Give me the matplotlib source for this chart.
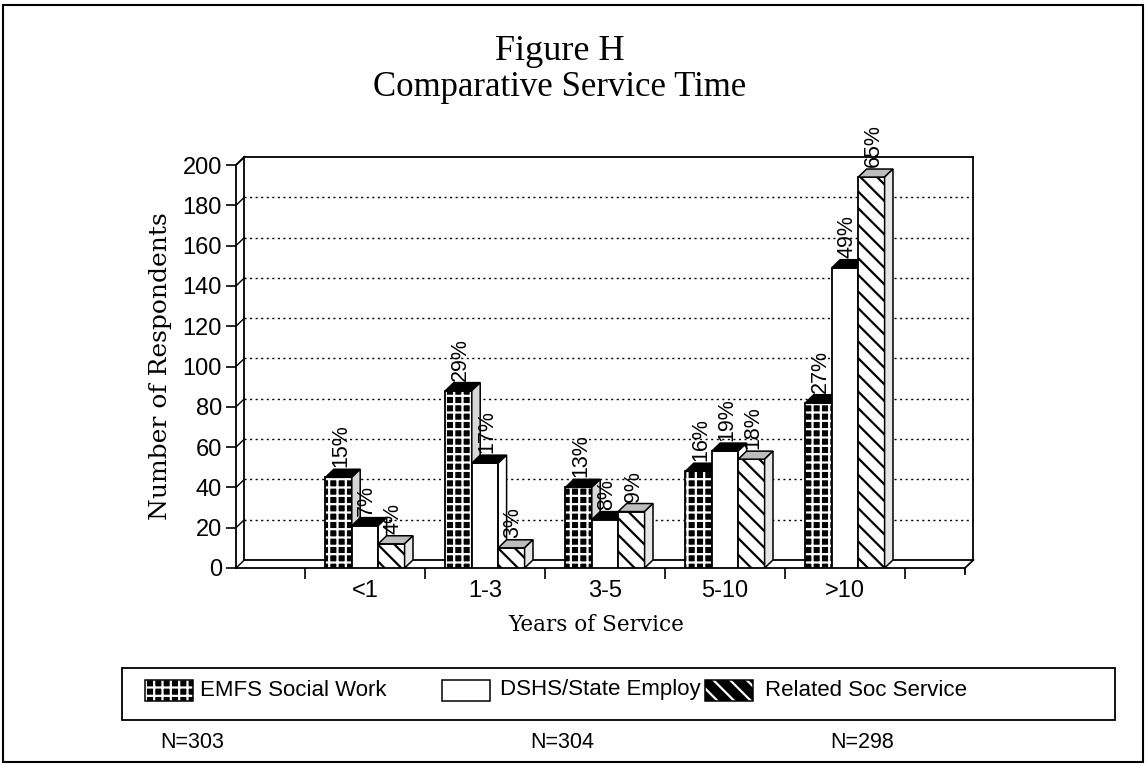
import matplotlib
matplotlib.use("Agg")
import matplotlib.pyplot as plt
from matplotlib.patches import Polygon, Rectangle
import numpy as np


categories = ["<1", "1-3", "3-5", "5-10", ">10"]
series_names = ["EMFS Social Work", "DSHS/State Employ", "Related Soc Service"]
emfs = [45, 88, 40, 48, 82]
dshs = [21, 52, 24, 58, 149]
related = [12, 10, 28, 54, 194]
emfs_pct = ["15%", "29%", "13%", "16%", "27%"]
dshs_pct = ["7%", "17%", "8%", "19%", "49%"]
related_pct = ["4%", "3%", "9%", "18%", "65%"]
n_labels = ["N=303", "N=304", "N=298"]
y_ticks = [0, 20, 40, 60, 80, 100, 120, 140, 160, 180, 200]

SANS = ["Liberation Sans", "DejaVu Sans"]
SERIF = ["Liberation Serif", "DejaVu Serif"]
SERIF_WIDE = ["DejaVu Serif", "Liberation Serif"]

W, H = 1148, 765
XMIN, XMAX = -1.075, 5.0
YMAX = 200
DX, DY = 0.07, 4.0          # fake depth, in data units
BAR_W = 0.22
OFFSETS = [-0.22, 0.0, 0.22]

plt.rcParams["hatch.linewidth"] = 1.6

fig = plt.figure(figsize=(W / 100, H / 100), dpi=100)
ax = fig.add_axes([236 / W, (H - 568) / H, (965 - 236) / W, (568 - 165) / H])
ax.set_xlim(XMIN, XMAX)
ax.set_ylim(0, YMAX)
for s in ["top", "right"]:
    ax.spines[s].set_visible(False)
ax.spines["left"].set_linewidth(1.3)
ax.spines["bottom"].set_linewidth(1.3)

# back wall, floor and grid
kw = dict(color="black", lw=1.3, clip_on=False, zorder=1)
ax.plot([XMIN + DX, XMIN + DX], [DY, YMAX + DY], **kw)
ax.plot([XMIN + DX, XMAX + DX], [YMAX + DY, YMAX + DY], **kw)
ax.plot([XMAX + DX, XMAX + DX], [DY, YMAX + DY], **kw)
ax.plot([XMIN + DX, XMAX + DX], [DY, DY], **kw)
ax.plot([XMAX, XMAX + DX], [0, DY], **kw)
ax.plot([XMIN, XMIN + DX], [YMAX, YMAX + DY], **kw)
ax.plot([XMAX, XMAX], [0, -3], **kw)
for v in y_ticks[1:-1]:
    ax.plot([XMIN + DX, XMAX + DX], [v + DY, v + DY], color="black", lw=1.0,
            ls=(0, (1.5, 2.5)), clip_on=False, zorder=1)
for v in y_ticks:
    ax.plot([XMIN, XMIN + DX], [v, v + DY], color="black", lw=1.0, clip_on=False, zorder=1)

# bars with pseudo 3d faces
styles = [
    dict(face="black", hatch="++", hcol="white", top="black", side="#d8d8d8"),
    dict(face="white", hatch=None, hcol="black", top="black", side="white"),
    dict(face="white", hatch="\\\\", hcol="black", top="#bdbdbd", side="#e6e6e6"),
]
values = [emfs, dshs, related]
pcts = [emfs_pct, dshs_pct, related_pct]
x = np.arange(len(categories))

for i in range(len(categories)):
    for k in range(3):
        st = styles[k]
        h = values[k][i]
        xc = x[i] + OFFSETS[k]
        x0 = xc - BAR_W / 2
        z = 3 + i * 0.1 + k * 0.01
        ax.bar(xc, h, BAR_W, color=st["face"], edgecolor=st["hcol"], hatch=st["hatch"],
               linewidth=0, zorder=z)
        ax.bar(xc, h, BAR_W, fill=False, edgecolor="black", linewidth=1.3, zorder=z)
        top = Polygon([(x0, h), (x0 + BAR_W, h), (x0 + BAR_W + DX, h + DY), (x0 + DX, h + DY)],
                      closed=True, facecolor=st["top"], edgecolor="black", lw=1.1, zorder=z)
        side = Polygon([(x0 + BAR_W, 0), (x0 + BAR_W + DX, DY), (x0 + BAR_W + DX, h + DY),
                        (x0 + BAR_W, h)],
                       closed=True, facecolor=st["side"], edgecolor="black", lw=1.1, zorder=z)
        ax.add_patch(top)
        ax.add_patch(side)
        ax.text(xc + 0.015, h + DY + 1.0, pcts[k][i], rotation=90, ha="center", va="bottom",
                fontsize=15.5, family=SANS, zorder=10)

ax.set_yticks(y_ticks)
ax.set_yticklabels([str(v) for v in y_ticks], family=SANS, fontsize=17)
ax.set_xticks(np.arange(-0.5, 5.0, 1.0))
ax.set_xticklabels([])
ax.tick_params(axis="y", direction="out", length=7, width=1.2, pad=3)
ax.tick_params(axis="x", direction="out", length=8, width=1.2)
for i, c in enumerate(categories):
    ax.text(x[i], -6, c, ha="center", va="top", fontsize=17, family=SANS)

ax.set_ylabel("Number of Respondents", family=SERIF_WIDE, fontsize=18, labelpad=8)
ax.text(1.93, -23, "Years of Service", ha="center", va="top", family=SERIF_WIDE, fontsize=15.5)

# titles
fig.text(560 / W, 1 - 51 / H, "Figure H", ha="center", va="center", family=SERIF, fontsize=26)
fig.text(560 / W, 1 - 88 / H, "Comparative Service Time", ha="center", va="center",
         family=SERIF, fontsize=25)

# legend box
lx0, lx1, ly0, ly1 = 122 / W, 1115 / W, 1 - 720 / H, 1 - 668 / H
fig.add_artist(Rectangle((lx0, ly0), lx1 - lx0, ly1 - ly0, transform=fig.transFigure,
                         fill=False, edgecolor="black", lw=1.3))
ycen = 1 - 690 / H
hpx = 21
entries = [(145, 200), (442, 500), (705, 765)]
for k, (sx, tx) in enumerate(entries):
    st = styles[k]
    r = Rectangle((sx / W, ycen - hpx / 2 / H), 48 / W, hpx / H, transform=fig.transFigure,
                  facecolor="black" if k == 2 else st["face"],
                  edgecolor="white" if k == 2 else st["hcol"],
                  hatch=st["hatch"], lw=0)
    fig.add_artist(r)
    fig.add_artist(Rectangle((sx / W, ycen - hpx / 2 / H), 48 / W, hpx / H,
                             transform=fig.transFigure, fill=False, edgecolor="black", lw=1.1))
    fig.text(tx / W, ycen, series_names[k], ha="left", va="center", family=SANS, fontsize=16)

for xn, lab in zip([160, 530, 830], n_labels):
    fig.text(xn / W, 1 - 743 / H, lab, ha="left", va="center", family=SANS, fontsize=15.5)

# outer border
fig.add_artist(Rectangle((3 / W, 3 / H), (W - 8) / W, (H - 8) / H, transform=fig.transFigure,
                         fill=False, edgecolor="black", lw=1.5))

fig.savefig("out.png", dpi=100)
